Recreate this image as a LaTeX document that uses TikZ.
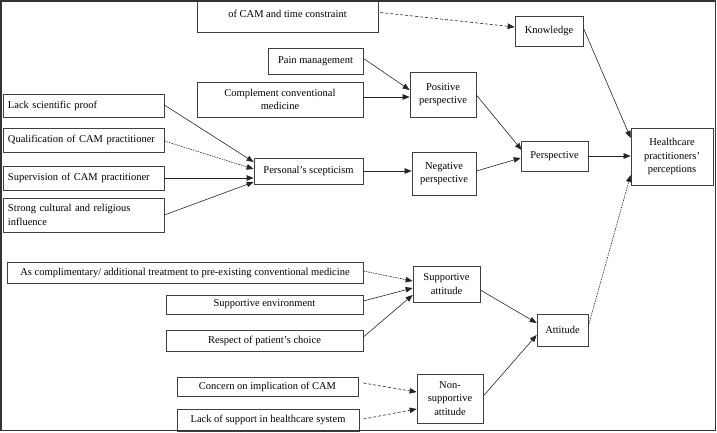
\documentclass[tikz,border=0pt]{standalone}
\usepackage{fontspec}
\setmainfont{Liberation Serif}
\usetikzlibrary{arrows.meta,calc}
\begin{document}
\begin{tikzpicture}[x=1pt,y=-1pt,
  box/.style={draw=black!75,line width=0.7pt,inner sep=0pt,align=center,
    font=\fontsize{10.5}{13.5}\selectfont},
  lbox/.style={box,align=left,text width=#1},
  con/.style={draw=black!85,line width=0.6pt,-{Triangle[length=7pt,width=5.5pt]}},
  dcon/.style={con,dash pattern=on 3pt off 2pt},
  fcon/.style={con,dash pattern=on 1.5pt off 1pt}]
\useasboundingbox (0,0) rectangle (717,432);
\clip (0,0) rectangle (717,432);
% nodes
\node[box,minimum width=181,minimum height=37] (top) at (287.5,13.5) {of CAM and time constraint};
\node[box,minimum width=68,minimum height=30] (know) at (549,31) {Knowledge};
\node[box,minimum width=95,minimum height=26] (pain) at (315.5,61) {Pain management};
\node[box,minimum width=166,minimum height=35] (compl) at (280,99.5) {Complement conventional\\medicine};
\node[box,minimum width=66,minimum height=45] (pos) at (443,94.5) {Positive\\perspective};
\node[box,minimum width=109,minimum height=26] (scep) at (308.5,171) {Personal’s scepticism};
\node[box,minimum width=64,minimum height=43] (neg) at (444,173.5) {Negative\\perspective};
\node[lbox=151,minimum width=161,minimum height=23] (lack) at (83.5,105.5) {Lack scientific proof};
\node[lbox=151,minimum width=161,minimum height=24] (qual) at (83.5,140) {Qualification of CAM practitioner};
\node[lbox=151,minimum width=161,minimum height=24] (superv) at (83.5,178) {Supervision of CAM practitioner};
\node[lbox=151,minimum width=161,minimum height=34] (strong) at (83.5,215) {Strong cultural and religious\\influence};
\node[box,minimum width=67,minimum height=30] (persp) at (554.5,156) {Perspective};
\node[box,minimum width=82,minimum height=57] (hc) at (672,156.5) {Healthcare\\practitioners’\\perceptions};
\node[box,minimum width=67,minimum height=36] (supp) at (446.5,284) {Supportive\\attitude};
\node[box,minimum width=356,minimum height=21] (asc) at (185,272.5) {As complimentary/ additional treatment to pre-existing conventional medicine};
\node[box,minimum width=197,minimum height=19] (env) at (264.5,304.5) {Supportive environment};
\node[box,minimum width=197,minimum height=21] (resp) at (264.5,340.5) {Respect of patient’s choice};
\node[box,minimum width=51,minimum height=32] (att) at (562.5,330) {Attitude};
\node[box,minimum width=181,minimum height=19] (conc) at (267.5,386.5) {Concern on implication of CAM};
\node[box,minimum width=182,minimum height=22] (lsup) at (268,420) {Lack of support in healthcare system};
\node[box,minimum width=66,minimum height=49] (nons) at (450,398.5) {Non-\\supportive\\attitude};
% connectors
\draw[dcon] ($(top.east)+(2,-1)$) -- ($(know.west)+(0,-4)$);
\draw[con] ($(pain.east)+(1,-2)$) -- ($(pos.west)+(0,-4.5)$);
\draw[con] ($(compl.east)+(0,-2.5)$) -- ($(pos.west)+(0,2.5)$);
\draw[con] ($(pos.east)+(0,0.5)$) -- ($(persp.west)+(1,-6)$);
\draw[con] ($(neg.east)+(0,-2.5)$) -- ($(persp.west)+(0,2)$);
\draw[con] (persp.east) -- ($(hc.west)+(0,-0.5)$);
\draw[con] ($(know.east)+(0,-3)$) -- ($(hc.west)+(0,-18.5)$);
\draw[fcon] ($(att.east)+(0,-4)$) -- ($(hc.west)+(0,18.5)$);
\draw[con] ($(lack.east)+(0,-0.5)$) -- ($(scep.west)+(0,-9)$);
\draw[fcon] ($(qual.east)+(0,1)$) -- ($(scep.west)+(0,-2)$);
\draw[con] (superv.east) -- ($(scep.west)+(0,7)$);
\draw[con] (strong.east) -- ($(scep.west)+(0,11)$);
\draw[con] (scep.east) -- ($(neg.west)+(0,-2.5)$);
\draw[fcon] ($(asc.east)+(0,-1.5)$) -- ($(supp.west)+(0,-3)$);
\draw[con] ($(env.east)+(0,-3.5)$) -- ($(supp.west)+(0,4)$);
\draw[con] ($(resp.east)+(0,-3.5)$) -- ($(supp.west)+(0,11)$);
\draw[con] ($(supp.east)+(0,6)$) -- ($(att.west)+(0,-7)$);
\draw[con] ($(nons.east)+(0,-2.5)$) -- ($(att.west)+(0,5)$);
\draw[dcon] ($(conc.east)+(5,-3.5)$) -- ($(nons.west)+(0,-6.5)$);
\draw[dcon] ($(lsup.east)+(4,-1)$) -- ($(nons.west)+(0,10.5)$);
% outer frame
\node[draw=black!80,line width=1.6pt,minimum width=714.5,minimum height=429.5,inner sep=0pt] (frame) at (358.25,215.75) {};
\end{tikzpicture}
\end{document}
